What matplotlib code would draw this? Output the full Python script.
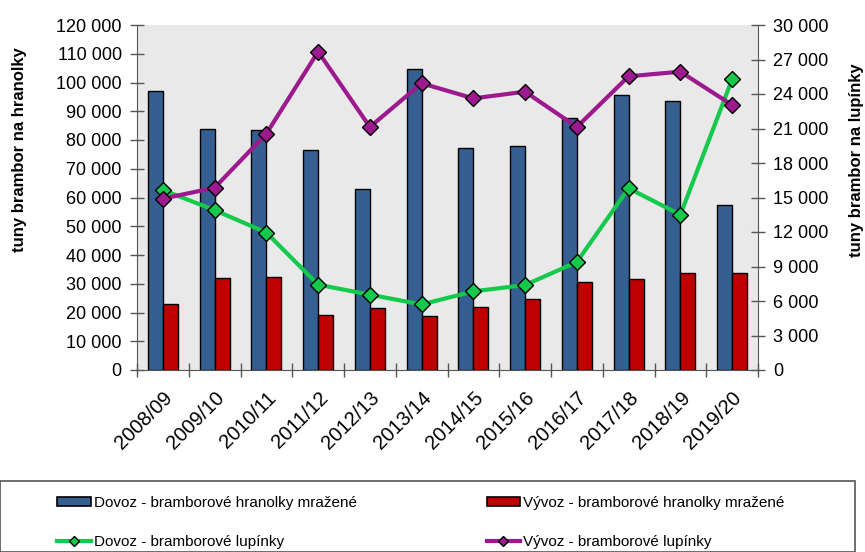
import matplotlib
matplotlib.use("Agg")
import matplotlib.pyplot as plt
import numpy as np
from matplotlib.patches import Rectangle, Patch
from matplotlib.lines import Line2D
from matplotlib.ticker import FuncFormatter, FixedLocator

plt.rcParams['font.family'] = ['Liberation Sans', 'DejaVu Sans']

years = ["2008/09", "2009/10", "2010/11", "2011/12", "2012/13", "2013/14",
         "2014/15", "2015/16", "2016/17", "2017/18", "2018/19", "2019/20"]
import_fries = [97000, 84000, 83500, 76500, 63000, 104700,
                77300, 77900, 87500, 95800, 93600, 57500]
export_fries = [22800, 31900, 32400, 19300, 21600, 18700,
                21800, 24600, 30500, 31500, 33800, 33600]
import_chips = [15650, 13900, 11950, 7420, 6550, 5700,
                6840, 7390, 9390, 15800, 13500, 25280]
export_chips = [14900, 15850, 20550, 27680, 21130, 24930,
                23620, 24200, 21130, 25540, 25940, 23040]

lab_import_fries = "Dovoz - bramborové hranolky mražené"
lab_export_fries = "Vývoz - bramborové hranolky mražené"
lab_import_chips = "Dovoz - bramborové lupínky"
lab_export_chips = "Vývoz - bramborové lupínky"

c_blue = '#365f91'
c_red = '#c00000'
c_green = '#14c94c'
c_purple = '#9c1a8e'

W, H = 865, 552
fig = plt.figure(figsize=(W / 100, H / 100), dpi=100)
ax = fig.add_axes([137 / W, 1 - 370 / H, (758 - 137) / W, (370 - 25) / H])
ax.set_facecolor('#e9e9e9')

x = np.arange(len(years))
bw = 0.29
ax.bar(x - bw / 2, import_fries, width=bw, color=c_blue, edgecolor='black', linewidth=1.0, zorder=2)
ax.bar(x + bw / 2, export_fries, width=bw, color=c_red, edgecolor='black', linewidth=1.0, zorder=2)
ax.set_xlim(-0.5, len(years) - 0.5)
ax.set_ylim(0, 120000)
ax.set_yticks(np.arange(0, 120001, 10000))
fmt = FuncFormatter(lambda v, p: f"{int(v):,}".replace(",", " "))
ax.yaxis.set_major_formatter(fmt)

ax.set_xticks(x)
ax.set_xticklabels(years, rotation=45, ha='right', va='top', rotation_mode='anchor', fontsize=14.5)
ax.xaxis.set_minor_locator(FixedLocator(np.arange(-0.5, len(years), 1.0)))
ax.tick_params(axis='x', which='major', length=0, pad=13)
ax.tick_params(axis='x', which='minor', direction='inout', length=10, width=1, color='#555555')
ax.tick_params(axis='y', direction='inout', length=10, width=1, color='#555555', labelsize=13, pad=6)

for s in ['top', 'right']:
    ax.spines[s].set_visible(False)
for s in ['left', 'bottom']:
    ax.spines[s].set_color('#555555')

ax2 = ax.twinx()
ax2.plot(x, import_chips, color=c_green, lw=3, marker='D', ms=8, mfc=c_green, mec='black', mew=1, zorder=3)
ax2.plot(x, export_chips, color=c_purple, lw=3, marker='D', ms=8, mfc=c_purple, mec='black', mew=1, zorder=3)
ax2.set_ylim(0, 30000)
ax2.set_yticks(np.arange(0, 30001, 3000))
ax2.yaxis.set_major_formatter(fmt)
ax2.tick_params(axis='y', direction='inout', length=10, width=1, color='#555555', labelsize=13, pad=6)
for s in ['top', 'left', 'bottom']:
    ax2.spines[s].set_visible(False)
ax2.spines['right'].set_color('#555555')

fig.text(20 / W, 1 - 150 / H, "tuny brambor na hranolky", rotation=90, ha='center', va='center',
         fontsize=12, fontweight='bold')
fig.text(856 / W, 1 - 160 / H, "tuny brambor na lupínky", rotation=90, ha='center', va='center',
         fontsize=12, fontweight='bold')

# legend box
fig.patches.append(Rectangle((0, 0), 855 / W, 1 - 481 / H, transform=fig.transFigure,
                             facecolor='white', edgecolor='#555555', linewidth=1.2, zorder=0))
handles = [Patch(facecolor=c_blue, edgecolor='black', linewidth=1.2),
           Line2D([], [], color=c_green, lw=3, marker='D', ms=5, mfc=c_green, mec='black'),
           Patch(facecolor=c_red, edgecolor='black', linewidth=1.2),
           Line2D([], [], color=c_purple, lw=3, marker='D', ms=5, mfc=c_purple, mec='black')]
labels = [lab_import_fries, lab_import_chips, lab_export_fries, lab_export_chips]
fig.legend(handles, labels, ncol=2, loc='upper left', bbox_to_anchor=(57 / W, 1 - 496 / H),
           frameon=False, fontsize=11, handlelength=2.2, handleheight=0.6, handletextpad=0.2,
           columnspacing=8.5, labelspacing=1.65, borderaxespad=0, borderpad=0)

fig.savefig("out.png", dpi=100)
